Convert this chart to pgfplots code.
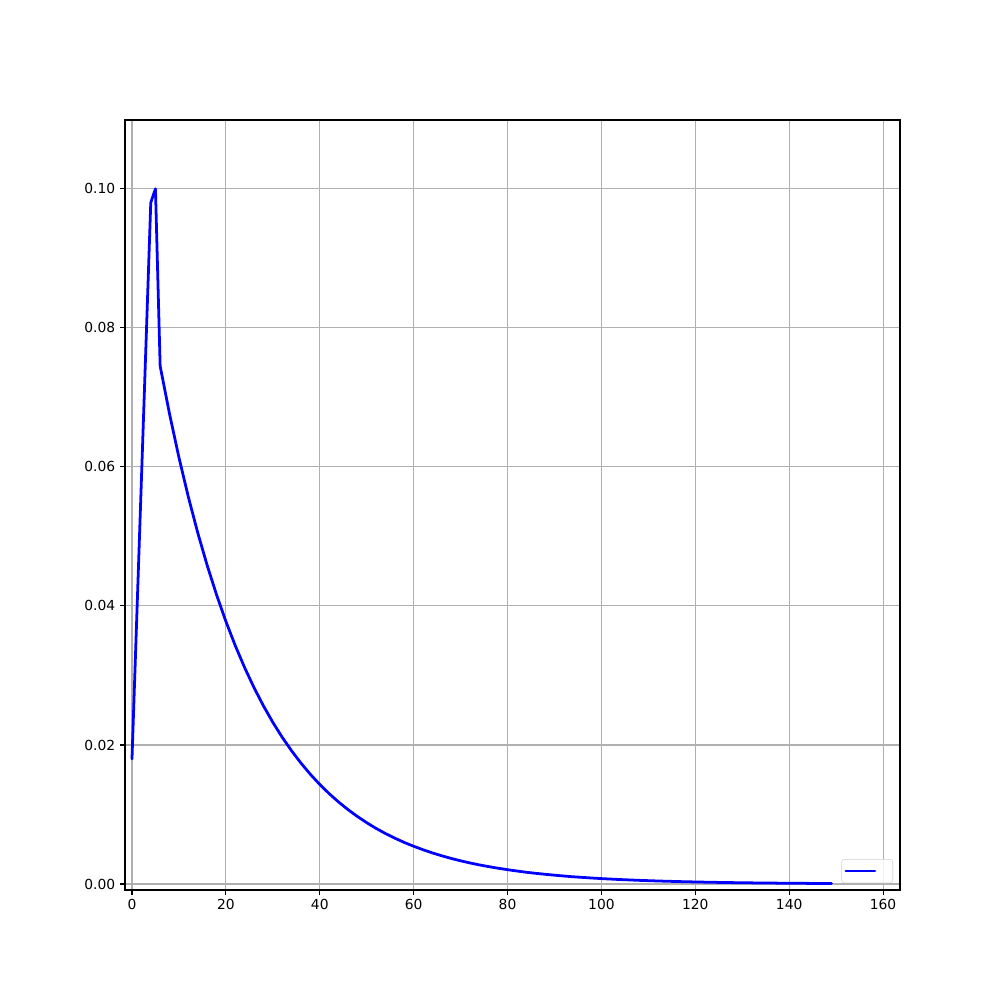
\documentclass[border=0pt]{standalone}
\usepackage{fontspec}
\setmainfont{DejaVu Sans}
\usepackage{pgfplots}
\pgfplotsset{compat=1.18}
\definecolor{gridgray}{HTML}{B0B0B0}
\begin{document}
\begin{tikzpicture}
\path (-90.3pt,-79.5pt) rectangle (632.4pt,643.2pt);
\begin{axis}[
  scale only axis,
  width=560.1pt, height=556.5pt,
  xmin=-1.5, xmax=163.6,
  ymin=-0.00086, ymax=0.1099,
  xtick={0,20,...,160},
  ytick={0,0.02,0.04,0.06,0.08,0.10},
  yticklabel style={/pgf/number format/.cd,fixed,fixed zerofill,precision=2},
  scaled y ticks=false,
  /pgf/number format/assume math mode=true,
  tick label style={font=\fontsize{10}{12}\selectfont},
  tick align=outside,
  tick pos=left,
  major tick length=3.5pt,
  every tick/.style={black, line width=0.8pt},
  axis line style={black, line width=0.8pt},
  grid=major,
  major grid style={gridgray, line width=0.8pt},
  legend style={at={(1,0)}, anchor=south east, xshift=-5pt, yshift=5pt,
    draw=gray!35, rounded corners=2pt, fill=white, fill opacity=0.8, text opacity=1,
    inner xsep=2pt, inner ysep=3pt, font=\fontsize{10}{12}\selectfont},
  legend image code/.code={\draw[#1, line width=2pt] (0pt,0pt) -- (21pt,0pt);},
]
\addplot[blue, line width=2pt, line join=round, line cap=round, no marks] coordinates {
(0,0.018) (1,0.038) (2,0.058) (3,0.078) (4,0.098) (5,0.100) (6,0.0745)
(8,0.06761) (10,0.06136) (12,0.05569) (14,0.05054) (16,0.04587) (18,0.04163)
(20,0.03778) (22,0.03429) (24,0.03112) (26,0.02824) (28,0.02563) (30,0.02326)
(32,0.02111) (34,0.01916) (36,0.01739) (38,0.01578) (40,0.01432) (42,0.01300)
(44,0.01180) (46,0.01071) (48,0.00972) (50,0.00882) (52,0.00800) (54,0.00726)
(56,0.00659) (58,0.00598) (60,0.00543) (62,0.00493) (64,0.00447) (66,0.00406)
(68,0.00368) (70,0.00334) (72,0.00303) (74,0.00275) (76,0.00250) (78,0.00227)
(80,0.00206) (82,0.00187) (84,0.00169) (86,0.00154) (88,0.00140) (90,0.00127)
(92,0.00115) (94,0.00104) (96,0.00095) (98,0.00086) (100,0.00078)
(104,0.000642) (108,0.000529) (112,0.000436) (116,0.000359) (120,0.000296)
(124,0.000243) (128,0.000200) (132,0.000165) (136,0.000136) (140,0.000112)
(144,0.000092) (148,0.000076) (149,0.000072)
};
\addlegendentry{\phantom{x}}
\end{axis}
\end{tikzpicture}
\end{document}
